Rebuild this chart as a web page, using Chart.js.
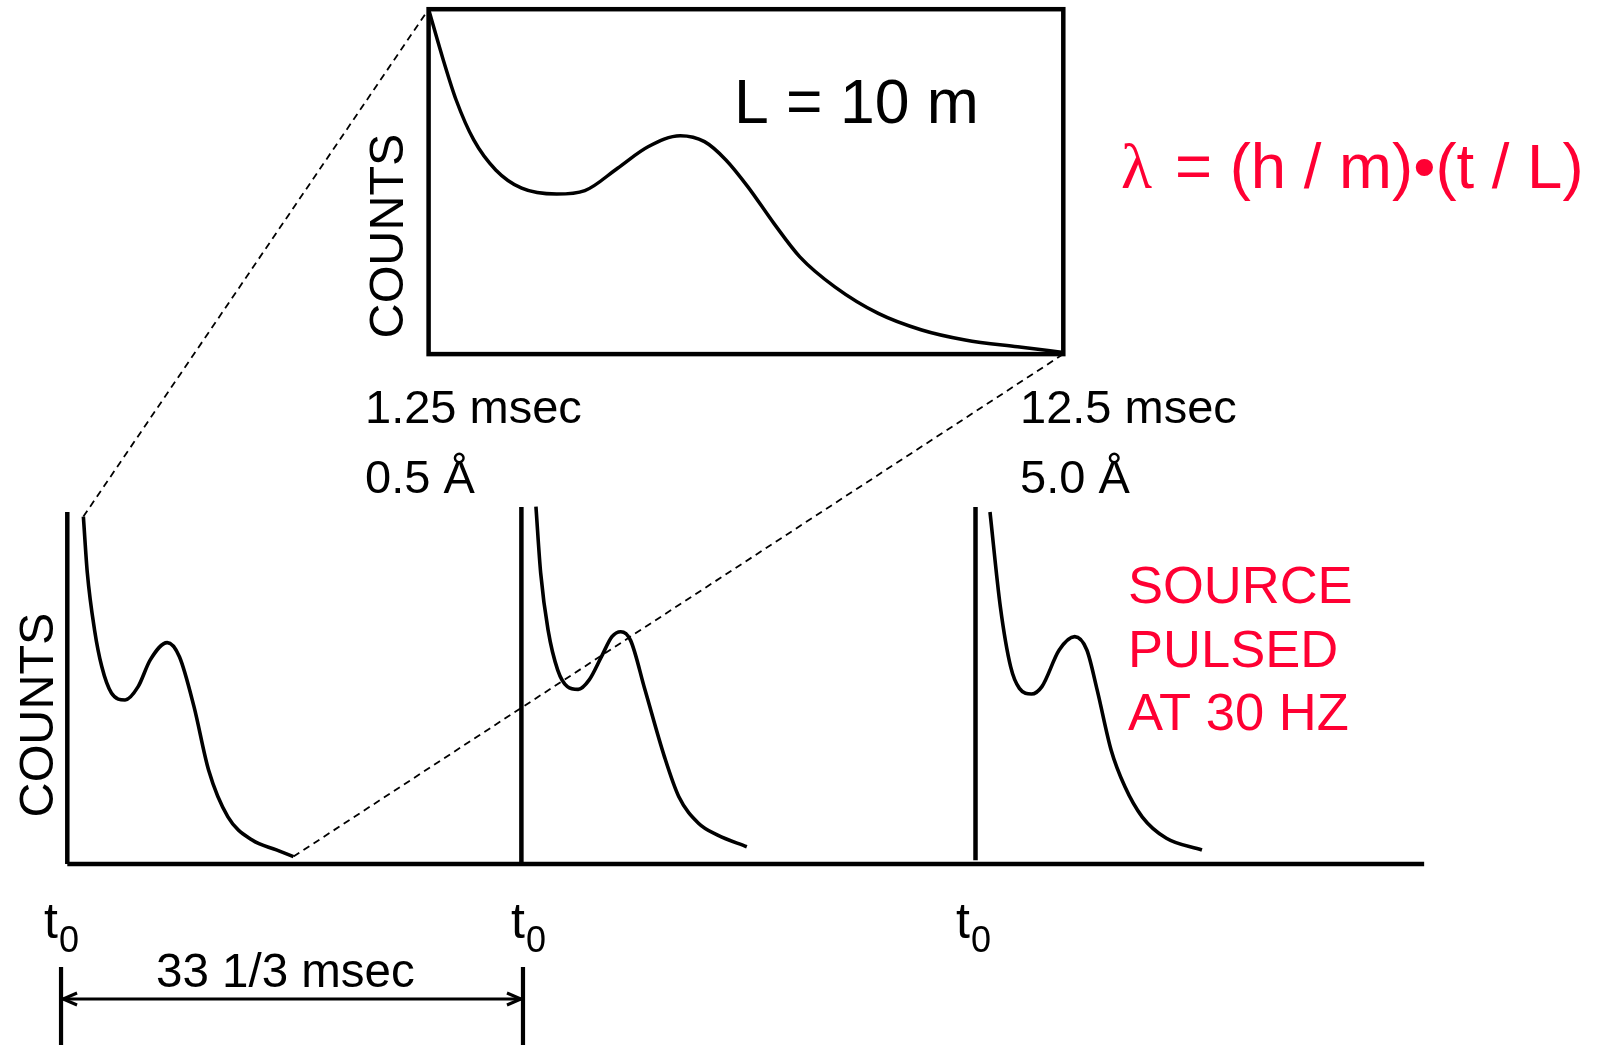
<!DOCTYPE html>
<html>
<head>
<meta charset="utf-8">
<title>Pulsed source time-of-flight</title>
<script src="https://cdn.jsdelivr.net/npm/chart.js@4/dist/chart.umd.min.js"></script>
<style>
  html, body { margin: 0; padding: 0; background: #fff; }
  #stage { position: relative; width: 1600px; height: 1045px; overflow: hidden; }
  #mainChart { position: absolute; left: 0; top: 0; }
  #insetChart { position: absolute; left: 400px; top: 0; }
</style>
</head>
<body>
<div id="stage">
  <canvas id="mainChart" width="1600" height="1045"></canvas>
  <canvas id="insetChart" width="700" height="380"></canvas>
</div>
<script>
// --- datos ---
// tira inferior: tiempo en msec desde el primer t0, cuentas en unidades arbitrarias (0-100)
const pulseStarts = [0, 33.333, 66.667];
const axisTops = [100, 101.4, 101.4];
const axisBottoms = [0, 0, 1.1];
const axisEnd = 99.6;

const pulse1Time = [1.18, 1.47, 2.00, 2.53, 3.24, 4.24, 5.20, 6.09, 7.34, 8.23, 9.30, 10.37, 11.79, 13.57, 15.35, 16.60];
const pulse1Counts = [98.7, 82.7, 66.5, 56.1, 48.6, 46.6, 50.4, 58.0, 62.9, 58.9, 44.7, 26.7, 13.4, 6.8, 4.0, 2.1];

const pulse2Time = [34.40, 34.75, 35.29, 36.00, 36.71, 37.50, 38.31, 39.21, 39.98, 40.63, 41.34, 42.41, 43.83, 44.89, 46.33, 47.74, 49.88];
const pulse2Counts = [101.5, 82.6, 66.5, 55.1, 50.4, 49.6, 52.3, 58.9, 64.6, 66.0, 63.6, 49.4, 30.5, 19.1, 11.6, 8.2, 4.9];

const pulse3Time = [67.73, 68.49, 69.25, 69.89, 70.78, 71.54, 72.81, 73.95, 74.84, 75.60, 76.62, 77.63, 78.90, 80.68, 83.29];
const pulse3Counts = [100.0, 73.1, 56.0, 49.9, 48.3, 50.4, 60.8, 64.6, 60.8, 49.4, 32.4, 22.0, 13.4, 7.3, 4.0];

// recuadro ampliado (L = 10 m): de 1.25 a 12.5 msec
const insetRange = [1.25, 12.5];
const insetTime = [1.25, 1.51, 1.74, 2.05, 2.44, 2.90, 3.52, 4.02, 4.60, 5.14, 5.71, 6.14, 6.52, 6.91, 7.37, 7.83, 8.45, 9.22, 9.99, 10.76, 11.69, 12.5];
const insetCounts = [100, 85.3, 73.6, 62.1, 53.4, 48.1, 46.4, 47.4, 53.9, 60.1, 63.3, 61.6, 56.3, 48.5, 37.9, 28.2, 19.5, 11.8, 7.0, 4.1, 2.1, 0.5];

// cota del periodo (33 1/3 msec) en msec
const periodMarks = [-0.46, 33.45];

// textos
const t0Label = 't';
const t0Sub = '0';
const periodLabel = '33 1/3 msec';
const countsLabel = 'COUNTS';
const lengthLabel = 'L = 10 m';
const leftRangeLabels = ['1.25 msec', '0.5 Å'];
const rightRangeLabels = ['12.5 msec', '5.0 Å'];
const sourceLines = ['SOURCE', 'PULSED', 'AT 30 HZ'];
const lambdaSymbol = 'λ';
const formulaRest = '= (h / m)•(t / L)';

const SANS = '"Liberation Sans", Arial, sans-serif';
const RED = '#ff0033';
const INSET_LEFT = 400, INSET_TOP = 0;

function toPoints(xs, ys) {
    return xs.map((x, i) => ({ x: x, y: ys[i] }));
}

function curveDataset(xs, ys, width) {
    return {
        data: toPoints(xs, ys),
        borderColor: '#000',
        borderWidth: width,
        pointRadius: 0,
        cubicInterpolationMode: 'monotone',
        fill: false,
        clip: false
    };
}

function straightDataset(points, width) {
    return {
        data: points,
        borderColor: '#000',
        borderWidth: width,
        borderCapStyle: 'butt',
        pointRadius: 0,
        tension: 0,
        fill: false,
        clip: false
    };
}

// --- recuadro ---
const insetFrame = {
    id: 'insetFrame',
    afterDatasetsDraw(chart) {
        const a = chart.chartArea;
        const ctx = chart.ctx;
        ctx.save();
        ctx.strokeStyle = '#000';
        ctx.lineWidth = 4.5;
        ctx.strokeRect(a.left, a.top, a.right - a.left, a.bottom - a.top);
        ctx.restore();
    }
};

const insetChart = new Chart(document.getElementById('insetChart'), {
    type: 'line',
    data: { datasets: [curveDataset(insetTime, insetCounts, 3.5)] },
    options: {
        responsive: false,
        animation: false,
        events: [],
        layout: { padding: { left: 28.6, right: 36.7, top: 9.2, bottom: 25.9 } },
        scales: {
            x: { type: 'linear', min: insetRange[0], max: insetRange[1], display: false },
            y: { type: 'linear', min: 0, max: 100, display: false }
        },
        plugins: { legend: { display: false }, tooltip: { enabled: false } }
    },
    plugins: [insetFrame]
});

// --- textos, líneas discontinuas y cota ---
function text(ctx, str, x, y, size, color, align, family) {
    ctx.font = size + 'px ' + (family || SANS);
    ctx.fillStyle = color || '#000';
    ctx.textAlign = align || 'left';
    ctx.textBaseline = 'alphabetic';
    ctx.fillText(str, x, y);
}

function verticalText(ctx, str, baseX, centerY, size) {
    ctx.save();
    ctx.translate(baseX, centerY);
    ctx.rotate(-Math.PI / 2);
    text(ctx, str, 0, 0, size, '#000', 'center');
    ctx.restore();
}

function arrowHead(ctx, x, y, dir) {
    ctx.beginPath();
    ctx.moveTo(x + dir * 14, y - 6);
    ctx.lineTo(x, y);
    ctx.lineTo(x + dir * 14, y + 6);
    ctx.stroke();
}

const annotations = {
    id: 'annotations',
    afterDraw(chart) {
        const ctx = chart.ctx;
        const xs = chart.scales.x, ys = chart.scales.y;
        const ix = insetChart.scales.x, iy = insetChart.scales.y;
        ctx.save();

        // líneas de zoom hacia el recuadro
        ctx.strokeStyle = '#000';
        ctx.lineWidth = 1.8;
        ctx.setLineDash([7, 5]);
        ctx.beginPath();
        ctx.moveTo(xs.getPixelForValue(pulse1Time[0]), ys.getPixelForValue(pulse1Counts[0]));
        ctx.lineTo(INSET_LEFT + ix.getPixelForValue(insetRange[0]), INSET_TOP + iy.getPixelForValue(100));
        ctx.moveTo(xs.getPixelForValue(pulse1Time[pulse1Time.length - 1]), ys.getPixelForValue(pulse1Counts[pulse1Counts.length - 1]));
        ctx.lineTo(INSET_LEFT + ix.getPixelForValue(insetRange[1]), INSET_TOP + iy.getPixelForValue(0));
        ctx.stroke();
        ctx.setLineDash([]);

        // cota de 33 1/3 msec
        const p0 = xs.getPixelForValue(periodMarks[0]);
        const p1 = xs.getPixelForValue(periodMarks[1]);
        ctx.lineWidth = 4.2;
        ctx.beginPath();
        ctx.moveTo(p0, 967); ctx.lineTo(p0, 1045);
        ctx.moveTo(p1, 967); ctx.lineTo(p1, 1045);
        ctx.stroke();
        ctx.lineWidth = 3;
        ctx.beginPath();
        ctx.moveTo(p0, 999); ctx.lineTo(p1, 999);
        ctx.stroke();
        arrowHead(ctx, p0 + 2, 999, 1);
        arrowHead(ctx, p1 - 2, 999, -1);
        text(ctx, periodLabel, 156, 987, 47.5);

        // t0 bajo cada pulso
        [44, 511, 956].forEach(x => {
            text(ctx, t0Label, x, 938, 50);
            ctx.font = '50px ' + SANS;
            const w = ctx.measureText(t0Label).width;
            text(ctx, t0Sub, x + w + 1, 952, 36);
        });

        // ejes COUNTS
        verticalText(ctx, countsLabel, 53, 715, 48.5);
        verticalText(ctx, countsLabel, 403, 236, 48.5);

        // etiquetas del recuadro
        text(ctx, lengthLabel, 734, 123, 62.5);
        text(ctx, leftRangeLabels[0], 365, 423, 47);
        text(ctx, leftRangeLabels[1], 365, 493, 47);
        text(ctx, rightRangeLabels[0], 1020, 423, 47);
        text(ctx, rightRangeLabels[1], 1020, 493, 47);

        // textos en rojo
        text(ctx, lambdaSymbol, 1121, 188, 64, RED, 'left', '"Liberation Serif", "DejaVu Serif", serif');
        text(ctx, formulaRest, 1175, 188, 63.5, RED);
        sourceLines.forEach((s, i) => text(ctx, s, 1128, 603 + i * 63.5, 52.5, RED));

        ctx.restore();
    }
};

const axisDatasets = pulseStarts.map((t, i) =>
    straightDataset([{ x: t, y: axisBottoms[i] }, { x: t, y: axisTops[i] }], 4.5));
axisDatasets.push(straightDataset([{ x: pulseStarts[0], y: 0 }, { x: axisEnd, y: 0 }], 4.6));

const mainChart = new Chart(document.getElementById('mainChart'), {
    type: 'line',
    data: {
        datasets: [
            ...axisDatasets,
            curveDataset(pulse1Time, pulse1Counts, 3.6),
            curveDataset(pulse2Time, pulse2Counts, 3.6),
            curveDataset(pulse3Time, pulse3Counts, 3.6)
        ]
    },
    options: {
        responsive: false,
        animation: false,
        events: [],
        layout: { padding: { left: 67.3, right: 170.4, top: 512, bottom: 181 } },
        scales: {
            x: { type: 'linear', min: 0, max: 100, display: false },
            y: { type: 'linear', min: 0, max: 100, display: false }
        },
        plugins: { legend: { display: false }, tooltip: { enabled: false } }
    },
    plugins: [annotations]
});
</script>
</body>
</html>
